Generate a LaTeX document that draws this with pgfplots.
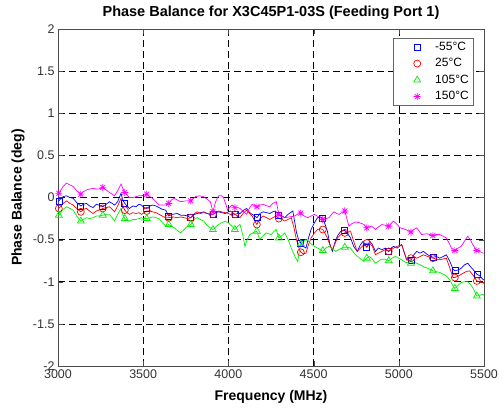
\documentclass[border=0pt]{standalone}
\usepackage{pgfplots}
\pgfplotsset{compat=1.18}
\usepackage{fontspec}
\setmainfont{Liberation Sans}
\pgfdeclareplotmark{mstar}{%
  \pgfpathmoveto{\pgfqpoint{-\pgfplotmarksize}{0pt}}\pgfpathlineto{\pgfqpoint{\pgfplotmarksize}{0pt}}%
  \pgfpathmoveto{\pgfqpoint{0pt}{-\pgfplotmarksize}}\pgfpathlineto{\pgfqpoint{0pt}{\pgfplotmarksize}}%
  \pgfpathmoveto{\pgfqpoint{-0.707\pgfplotmarksize}{-0.707\pgfplotmarksize}}\pgfpathlineto{\pgfqpoint{0.707\pgfplotmarksize}{0.707\pgfplotmarksize}}%
  \pgfpathmoveto{\pgfqpoint{-0.707\pgfplotmarksize}{0.707\pgfplotmarksize}}\pgfpathlineto{\pgfqpoint{0.707\pgfplotmarksize}{-0.707\pgfplotmarksize}}%
  \pgfusepathqstroke}
\definecolor{mblue}{RGB}{0,0,255}
\definecolor{mred}{RGB}{255,0,0}
\definecolor{mgreen}{RGB}{0,240,0}
\definecolor{mmag}{RGB}{255,0,255}
\begin{document}
\begin{tikzpicture}
\begin{axis}[
  scale only axis, width=426pt, height=337pt,
  xmin=3000, xmax=5500, ymin=-2, ymax=2,
  xtick={3000,3500,...,5500}, ytick={-2,-1.5,...,2},
  grid=major,
  major grid style={black, dash pattern=on 7pt off 4pt, line width=0.6pt},
  tick align=inside, xtick pos=both, ytick pos=both,
  major tick length=5pt,
  axis line style={black!70}, tick style={black!70},
  ticklabel style={font=\fontsize{12.5}{14}\selectfont, text=black!80},
  /pgf/number format/assume math mode=true,
  xticklabel style={/pgf/number format/1000 sep={}},
  yticklabel style={/pgf/number format/fixed},
  xlabel={Frequency (MHz)}, ylabel={Phase Balance (deg)},
  title={Phase Balance for X3C45P1-03S (Feeding Port 1)},
  label style={font=\bfseries\fontsize{14}{16}\selectfont},
  title style={font=\bfseries\fontsize{14.5}{16}\selectfont, at={(axis description cs:0.5,1.03)}, anchor=center},
  xlabel style={at={(axis description cs:0.5,-0.092)}, anchor=center},
  ylabel style={at={(axis description cs:-0.094,0.5)}, anchor=center},
  legend style={at={(0.974,0.973)}, anchor=north east, draw=black!60, inner xsep=2pt, inner ysep=0.5pt,
    font=\fontsize{12}{14}\selectfont, row sep=0pt,
    nodes={text height=8.5pt, text depth=2pt, inner ysep=3pt}},
  legend cell align=left,
  legend image code/.code={\path[draw=none] (0pt,0pt) -- (38pt,0pt); \draw[#1] plot[only marks] coordinates {(22pt,0pt)};},
]
% lines
\addplot[mblue, line width=0.7pt, forget plot] coordinates {
(3000,-0.05)(3005,-0.04)(3030,0.01)(3050,0.02)(3070,0.0)(3089,-0.01)(3110,-0.06)(3134,-0.10)(3150,-0.08)(3167,-0.07)(3185,-0.1)(3206,-0.12)(3225,-0.08)(3240,-0.09)(3263,-0.11)(3283,-0.08)(3302,-0.05)(3318,-0.07)(3332,-0.09)(3350,-0.05)(3370,0.05)(3380,-0.03)(3392,-0.07)(3405,-0.1)(3419,-0.13)(3440,-0.1)(3458,-0.11)(3475,-0.08)(3490,-0.09)(3505,-0.12)(3521,-0.13)(3540,-0.1)(3555,-0.09)(3575,-0.1)(3593,-0.12)(3612,-0.14)(3632,-0.15)(3650,-0.22)(3670,-0.2)(3700,-0.19)(3720,-0.21)(3740,-0.21)(3760,-0.22)(3779,-0.24)(3800,-0.2)(3816,-0.19)(3835,-0.18)(3855,-0.17)(3875,-0.19)(3894,-0.2)(3909,-0.2)(3925,-0.18)(3942,-0.17)(3960,-0.18)(3981,-0.19)(4000,-0.17)(4010,-0.16)(4025,-0.18)(4038,-0.2)(4055,-0.19)(4068,-0.19)(4090,-0.15)(4107,-0.13)(4125,-0.18)(4140,-0.2)(4155,-0.22)(4167,-0.24)(4185,-0.19)(4204,-0.17)(4225,-0.18)(4243,-0.19)(4260,-0.17)(4275,-0.16)(4296,-0.21)(4315,-0.22)(4330,-0.24)(4350,-0.2)(4378,-0.16)(4390,-0.3)(4400,-0.42)(4412,-0.5)(4425,-0.54)(4440,-0.58)(4455,-0.6)(4470,-0.48)(4485,-0.38)(4505,-0.3)(4523,-0.24)(4540,-0.23)(4554,-0.25)(4568,-0.32)(4581,-0.4)(4595,-0.55)(4610,-0.64)(4630,-0.5)(4645,-0.44)(4660,-0.4)(4683,-0.39)(4700,-0.43)(4717,-0.48)(4735,-0.58)(4756,-0.64)(4775,-0.56)(4790,-0.52)(4812,-0.59)(4830,-0.52)(4845,-0.56)(4863,-0.64)(4880,-0.6)(4901,-0.62)(4920,-0.6)(4941,-0.64)(4955,-0.6)(4969,-0.58)(4990,-0.6)(5017,-0.56)(5030,-0.64)(5046,-0.74)(5071,-0.75)(5088,-0.68)(5105,-0.64)(5125,-0.66)(5144,-0.64)(5170,-0.68)(5200,-0.71)(5220,-0.7)(5240,-0.72)(5260,-0.7)(5279,-0.68)(5300,-0.76)(5318,-0.85)(5329,-0.87)(5348,-0.86)(5366,-0.84)(5385,-0.8)(5405,-0.78)(5420,-0.82)(5434,-0.85)(5458,-0.91)(5475,-0.93)(5493,-0.97)(5500,-0.98)};
\addplot[mred, line width=0.7pt, forget plot] coordinates {
(3000,-0.12)(3005,-0.13)(3030,-0.07)(3050,-0.04)(3070,-0.07)(3089,-0.09)(3110,-0.13)(3134,-0.17)(3150,-0.14)(3167,-0.13)(3185,-0.16)(3206,-0.19)(3225,-0.16)(3240,-0.15)(3263,-0.13)(3283,-0.12)(3302,-0.11)(3318,-0.14)(3332,-0.17)(3350,-0.1)(3370,-0.01)(3380,-0.1)(3392,-0.15)(3405,-0.18)(3419,-0.2)(3440,-0.18)(3458,-0.19)(3475,-0.18)(3490,-0.2)(3505,-0.18)(3521,-0.16)(3540,-0.16)(3555,-0.17)(3575,-0.18)(3593,-0.2)(3612,-0.22)(3632,-0.24)(3650,-0.24)(3675,-0.23)(3700,-0.24)(3720,-0.23)(3740,-0.24)(3760,-0.25)(3779,-0.24)(3800,-0.19)(3816,-0.17)(3835,-0.19)(3855,-0.18)(3875,-0.19)(3894,-0.2)(3909,-0.2)(3925,-0.18)(3942,-0.16)(3960,-0.17)(3981,-0.18)(4000,-0.19)(4010,-0.2)(4025,-0.21)(4038,-0.2)(4055,-0.22)(4068,-0.24)(4090,-0.18)(4107,-0.15)(4125,-0.19)(4140,-0.22)(4155,-0.28)(4167,-0.32)(4185,-0.25)(4204,-0.22)(4225,-0.24)(4243,-0.26)(4260,-0.24)(4280,-0.22)(4296,-0.25)(4315,-0.26)(4330,-0.28)(4350,-0.26)(4369,-0.24)(4385,-0.36)(4397,-0.48)(4410,-0.58)(4425,-0.65)(4440,-0.67)(4455,-0.66)(4470,-0.56)(4485,-0.48)(4505,-0.42)(4523,-0.38)(4540,-0.37)(4554,-0.38)(4568,-0.43)(4581,-0.48)(4595,-0.56)(4610,-0.62)(4625,-0.55)(4640,-0.48)(4660,-0.44)(4683,-0.42)(4700,-0.4)(4717,-0.4)(4735,-0.52)(4756,-0.64)(4775,-0.6)(4795,-0.56)(4812,-0.54)(4830,-0.55)(4845,-0.58)(4863,-0.68)(4880,-0.66)(4901,-0.64)(4920,-0.62)(4941,-0.64)(4955,-0.62)(4969,-0.6)(4990,-0.58)(5017,-0.56)(5030,-0.64)(5046,-0.74)(5071,-0.72)(5088,-0.7)(5105,-0.72)(5125,-0.7)(5144,-0.68)(5170,-0.7)(5200,-0.72)(5220,-0.73)(5240,-0.74)(5260,-0.73)(5279,-0.72)(5300,-0.84)(5318,-0.95)(5329,-0.95)(5350,-0.93)(5376,-0.9)(5395,-0.88)(5415,-0.87)(5435,-0.92)(5458,-0.99)(5475,-1.0)(5493,-1.01)(5500,-1.02)};
\addplot[mgreen, line width=0.7pt, forget plot] coordinates {
(3000,-0.2)(3005,-0.21)(3030,-0.14)(3050,-0.11)(3070,-0.13)(3089,-0.15)(3110,-0.22)(3134,-0.28)(3150,-0.26)(3167,-0.24)(3185,-0.25)(3206,-0.24)(3225,-0.22)(3240,-0.22)(3263,-0.21)(3283,-0.2)(3302,-0.2)(3318,-0.24)(3332,-0.28)(3350,-0.2)(3370,-0.13)(3380,-0.2)(3392,-0.25)(3405,-0.27)(3419,-0.28)(3440,-0.26)(3458,-0.26)(3475,-0.25)(3490,-0.24)(3505,-0.25)(3521,-0.25)(3540,-0.24)(3555,-0.23)(3575,-0.24)(3593,-0.25)(3612,-0.3)(3632,-0.34)(3650,-0.32)(3665,-0.34)(3681,-0.36)(3700,-0.39)(3719,-0.42)(3750,-0.36)(3779,-0.32)(3800,-0.26)(3816,-0.24)(3835,-0.26)(3855,-0.28)(3875,-0.33)(3894,-0.36)(3909,-0.38)(3925,-0.35)(3942,-0.32)(3960,-0.3)(3981,-0.28)(4000,-0.3)(4010,-0.32)(4025,-0.35)(4038,-0.38)(4055,-0.34)(4068,-0.32)(4085,-0.45)(4097,-0.58)(4110,-0.5)(4126,-0.44)(4145,-0.42)(4167,-0.4)(4184,-0.5)(4200,-0.46)(4220,-0.42)(4236,-0.43)(4252,-0.44)(4268,-0.4)(4281,-0.38)(4296,-0.48)(4315,-0.45)(4330,-0.42)(4350,-0.5)(4369,-0.6)(4390,-0.7)(4407,-0.76)(4415,-0.65)(4425,-0.55)(4440,-0.52)(4455,-0.5)(4470,-0.52)(4485,-0.55)(4505,-0.58)(4523,-0.6)(4540,-0.62)(4554,-0.64)(4572,-0.6)(4591,-0.58)(4610,-0.61)(4630,-0.64)(4655,-0.61)(4683,-0.59)(4700,-0.59)(4717,-0.6)(4730,-0.64)(4746,-0.68)(4770,-0.72)(4795,-0.76)(4812,-0.72)(4825,-0.7)(4840,-0.72)(4863,-0.78)(4878,-0.76)(4892,-0.74)(4915,-0.73)(4941,-0.75)(4960,-0.72)(4979,-0.7)(5000,-0.72)(5017,-0.74)(5040,-0.77)(5071,-0.78)(5088,-0.77)(5105,-0.78)(5125,-0.8)(5144,-0.82)(5170,-0.84)(5200,-0.87)(5220,-0.88)(5240,-0.89)(5260,-0.91)(5279,-0.93)(5300,-0.98)(5318,-1.05)(5329,-1.08)(5348,-1.04)(5366,-1.01)(5385,-1.0)(5405,-1.0)(5420,-1.03)(5434,-1.07)(5458,-1.17)(5475,-1.16)(5493,-1.15)(5500,-1.16)};
\addplot[mmag, line width=0.7pt, forget plot] coordinates {
(3000,0.05)(3005,0.05)(3030,0.13)(3050,0.17)(3070,0.15)(3089,0.13)(3110,0.08)(3134,0.04)(3150,0.07)(3167,0.09)(3185,0.1)(3206,0.11)(3225,0.1)(3240,0.1)(3263,0.12)(3283,0.09)(3302,0.06)(3318,0.04)(3332,0.02)(3350,0.08)(3370,0.16)(3380,0.11)(3392,0.06)(3405,0.03)(3419,0.0)(3440,0.0)(3458,0.01)(3475,0.02)(3490,0.02)(3505,0.03)(3521,0.04)(3540,0.01)(3555,-0.01)(3575,-0.05)(3593,-0.09)(3612,-0.09)(3632,-0.09)(3650,-0.07)(3665,-0.03)(3681,-0.01)(3700,-0.03)(3719,-0.05)(3750,-0.04)(3779,-0.04)(3795,-0.01)(3806,0.01)(3830,0.02)(3855,0.01)(3875,-0.02)(3894,-0.05)(3909,-0.17)(3925,-0.05)(3942,0.02)(3960,0.02)(3971,0.0)(3985,-0.08)(3995,-0.15)(4010,-0.11)(4020,-0.09)(4038,-0.12)(4055,-0.12)(4068,-0.13)(4090,-0.17)(4107,-0.2)(4125,-0.12)(4140,-0.08)(4155,-0.1)(4167,-0.11)(4185,-0.09)(4204,-0.08)(4225,-0.1)(4243,-0.11)(4260,-0.07)(4281,-0.05)(4296,-0.2)(4315,-0.22)(4330,-0.24)(4360,-0.23)(4388,-0.22)(4405,-0.2)(4425,-0.185)(4445,-0.22)(4465,-0.24)(4485,-0.22)(4504,-0.2)(4530,-0.23)(4554,-0.26)(4572,-0.25)(4591,-0.24)(4605,-0.2)(4620,-0.17)(4635,-0.19)(4650,-0.2)(4665,-0.18)(4683,-0.16)(4695,-0.25)(4707,-0.34)(4725,-0.31)(4746,-0.29)(4770,-0.3)(4795,-0.32)(4812,-0.36)(4825,-0.35)(4840,-0.34)(4863,-0.38)(4880,-0.35)(4901,-0.32)(4920,-0.33)(4941,-0.34)(4955,-0.31)(4969,-0.28)(4990,-0.32)(5008,-0.36)(5040,-0.38)(5071,-0.41)(5088,-0.38)(5105,-0.36)(5120,-0.4)(5134,-0.44)(5165,-0.43)(5200,-0.45)(5220,-0.44)(5240,-0.44)(5260,-0.46)(5279,-0.48)(5300,-0.56)(5318,-0.64)(5329,-0.63)(5348,-0.6)(5366,-0.58)(5385,-0.52)(5405,-0.46)(5420,-0.5)(5434,-0.56)(5458,-0.63)(5475,-0.64)(5493,-0.66)(5500,-0.66)};
% markers
\addplot[only marks, mark=square, mblue, mark size=3pt, line width=0.7pt] coordinates {
(3005,-0.04)(3134,-0.10)(3263,-0.11)(3392,-0.07)(3521,-0.13)(3650,-0.22)(3779,-0.24)(3909,-0.20)(4038,-0.20)(4167,-0.24)(4296,-0.21)(4425,-0.54)(4554,-0.25)(4683,-0.39)(4812,-0.59)(4941,-0.64)(5071,-0.75)(5200,-0.71)(5329,-0.87)(5458,-0.91)};
\addlegendentry{-55°C}
\addplot[only marks, mark=o, mred, mark size=3.5pt, line width=0.7pt] coordinates {
(3005,-0.13)(3134,-0.17)(3263,-0.13)(3392,-0.15)(3521,-0.16)(3650,-0.24)(3779,-0.24)(3909,-0.20)(4038,-0.20)(4167,-0.32)(4296,-0.25)(4425,-0.65)(4554,-0.38)(4683,-0.42)(4812,-0.54)(4941,-0.64)(5071,-0.72)(5200,-0.72)(5329,-0.95)(5458,-0.99)};
\addlegendentry{25°C}
\addplot[only marks, mark=triangle, mgreen, mark size=4pt, line width=0.7pt] coordinates {
(3005,-0.21)(3134,-0.28)(3263,-0.21)(3392,-0.25)(3521,-0.25)(3650,-0.32)(3779,-0.32)(3909,-0.38)(4038,-0.38)(4167,-0.40)(4296,-0.48)(4425,-0.55)(4554,-0.63)(4683,-0.59)(4812,-0.72)(4941,-0.75)(5071,-0.78)(5200,-0.87)(5329,-1.08)(5458,-1.17)};
\addlegendentry{105°C}
\addplot[only marks, mark=mstar, mmag, mark size=3.5pt, line width=0.7pt] coordinates {
(3005,0.05)(3134,0.04)(3263,0.12)(3392,0.06)(3521,0.04)(3650,-0.07)(3779,-0.04)(3909,-0.17)(4038,-0.12)(4167,-0.11)(4296,-0.20)(4425,-0.185)(4554,-0.26)(4683,-0.16)(4812,-0.36)(4941,-0.34)(5071,-0.41)(5200,-0.45)(5329,-0.63)(5458,-0.63)};
\addlegendentry{150°C}
\end{axis}
\pgfresetboundingbox
\path[use as bounding box] ([xshift=-58pt,yshift=-42pt]current axis.south west) rectangle ([xshift=15pt,yshift=29pt]current axis.north east);
\end{tikzpicture}
\end{document}
